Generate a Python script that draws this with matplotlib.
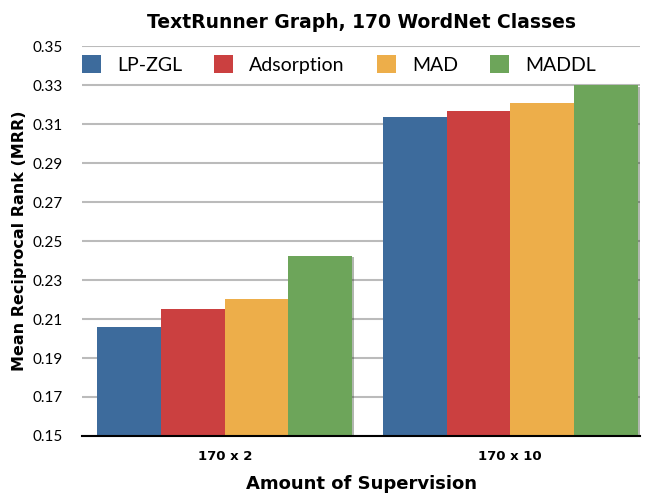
import matplotlib
matplotlib.use("Agg")
import matplotlib.pyplot as plt
import matplotlib.patheffects as pe
import numpy as np

# ──────────────────────────────────────────────
# Data
# ──────────────────────────────────────────────
groups = ["170 x 2", "170 x 10"]
methods = ["LP-ZGL", "Adsorption", "MAD", "MADDL"]
lp_zgl = [0.206, 0.3136]
adsorption = [0.2151, 0.3167]
mad = [0.2201, 0.3208]
maddl = [0.2423, 0.3300]
yticks = [0.15, 0.17, 0.19, 0.21, 0.23, 0.25, 0.27, 0.29, 0.31, 0.33, 0.35]

colors = ["#3D6B9C", "#CB4040", "#EDAE4A", "#6DA55A"]
plt.rcParams["font.family"] = ["Lato", "DejaVu Sans"]
heavy = ["DejaVu Sans"]

fig = plt.figure(figsize=(6.46, 4.96), dpi=100)
ax = fig.add_axes([0.127, 0.121, 0.864, 0.786])

x = np.arange(len(groups))
width = 0.223
shadow = [pe.SimplePatchShadow(offset=(1.5, -1), alpha=0.35), pe.Normal()]
for i, (name, vals) in enumerate(zip(methods, [lp_zgl, adsorption, mad, maddl])):
    ax.bar(x + (i - 1.5) * width, vals, width, color=colors[i], label=name,
           zorder=3, path_effects=shadow)

ax.set_ylim(0.15, 0.35)
ax.set_xlim(-0.5, 1.455)
ax.set_yticks(yticks)
ax.set_yticklabels([f"{t:.2f}" for t in yticks], fontsize=11)
ax.set_xticks(x)
ax.set_xticklabels(groups, fontsize=9.5, fontweight="bold", family=heavy)
ax.tick_params(axis="x", length=0, pad=10)
ax.tick_params(axis="y", length=0, pad=14)
ax.grid(axis="y", color="#BBBBBB", linewidth=1.5, zorder=0)
for s in ["top", "right", "left"]:
    ax.spines[s].set_visible(False)
ax.spines["bottom"].set_color("black")
ax.spines["bottom"].set_linewidth(1.5)
ax.spines["bottom"].set_zorder(4)

ax.set_title("TextRunner Graph, 170 WordNet Classes", fontsize=13.5,
             fontweight="bold", family=heavy, pad=13)
ax.set_xlabel("Amount of Supervision", fontsize=13, fontweight="bold",
              family=heavy, labelpad=9)
ax.set_ylabel("Mean Reciprocal Rank (MRR)", fontsize=11.5, fontweight="bold",
              family=heavy, labelpad=4)

leg = ax.legend(loc="center left", bbox_to_anchor=(0.0, 0.9526), ncol=4,
                frameon=False, fontsize=14, handlelength=0.98, handleheight=0.98,
                handletextpad=0.82, columnspacing=1.65, borderpad=0,
                borderaxespad=0)
for h in leg.legend_handles:
    h.set_path_effects([])

fig.savefig("out.png", dpi=100)
plt.close(fig)
